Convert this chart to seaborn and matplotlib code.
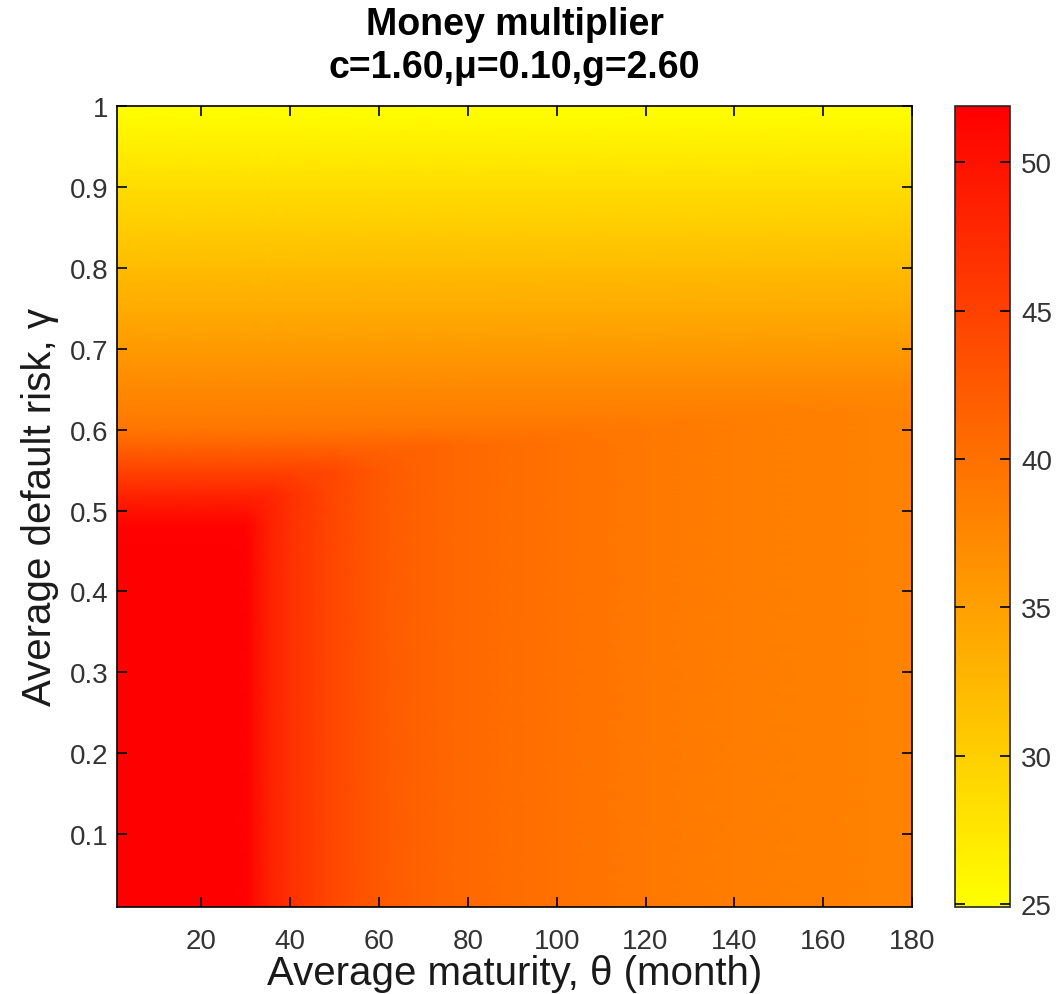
import numpy as np
import matplotlib
matplotlib.use("Agg")
import matplotlib.pyplot as plt
import seaborn as sns

sns.set_style("white")
plt.rcParams['font.family'] = ['Liberation Sans', 'DejaVu Sans']

# Grid coordinates (average maturity theta in months, default risk gamma)
theta = [1, 10, 20, 30, 35, 40, 50, 60, 70, 80, 100, 120, 140, 160, 180]
gamma = [0.01, 0.1, 0.2, 0.3, 0.4, 0.45, 0.48, 0.5, 0.52, 0.55, 0.58, 0.6,
         0.62, 0.65, 0.7, 0.8, 0.9, 1.0]

# Money multiplier values (rows: gamma, cols: theta)
low = [51.9, 51.9, 51.9, 51.7, 48.5, 46.8, 44.3, 42.6, 41.4, 40.8, 39.9, 39.2, 38.7, 38.3, 37.9]
multiplier = [
    low,
    low,
    low,
    low,
    low,
    low,
    [51.6, 51.6, 51.6, 51.6, 48.5, 46.8, 44.3, 42.6, 41.4, 40.8, 39.9, 39.2, 38.7, 38.3, 37.9],
    [50.0, 50.0, 50.0, 50.0, 48.5, 46.8, 44.3, 42.6, 41.4, 40.8, 39.9, 39.2, 38.7, 38.3, 37.9],
    [48.0, 48.0, 48.0, 48.0, 48.0, 46.8, 44.3, 42.6, 41.4, 40.8, 39.9, 39.2, 38.7, 38.3, 37.9],
    [44.8, 44.8, 44.8, 44.8, 44.8, 44.8, 44.3, 42.6, 41.4, 40.8, 39.9, 39.2, 38.7, 38.3, 37.9],
    [41.4, 41.4, 41.4, 41.4, 41.4, 41.4, 41.4, 41.4, 41.4, 40.8, 39.9, 39.2, 38.7, 38.3, 37.9],
    [39.5, 39.5, 39.5, 39.5, 39.5, 39.5, 39.5, 39.5, 39.5, 39.5, 39.5, 39.2, 38.7, 38.3, 37.9],
    [38.6, 38.6, 38.6, 38.6, 38.6, 38.6, 38.6, 38.6, 38.6, 38.6, 38.6, 38.6, 38.6, 38.3, 37.9],
    [37.5] * 15,
    [35.6] * 15,
    [32.0] * 15,
    [28.5] * 15,
    [24.9] * 15,
]

xticks = [20, 40, 60, 80, 100, 120, 140, 160, 180]
yticks = [0.1, 0.2, 0.3, 0.4, 0.5, 0.6, 0.7, 0.8, 0.9, 1.0]
ytick_labels = ["0.1", "0.2", "0.3", "0.4", "0.5", "0.6", "0.7", "0.8", "0.9", "1"]
cticks = [25, 30, 35, 40, 45, 50]

W, H = 1057, 995
fig = plt.figure(figsize=(W / 100, H / 100), dpi=100)
ax = fig.add_axes([117 / W, 1 - 908 / H, (912 - 117) / W, (908 - 107) / H])
cax = fig.add_axes([955 / W, 1 - 908 / H, (1010 - 955) / W, (908 - 107) / H])

cmap = sns.color_palette("autumn_r", as_cmap=True)
mesh = ax.pcolormesh(np.array(theta), np.array(gamma), np.array(multiplier),
                     shading='gouraud', cmap=cmap, vmin=24.9, vmax=51.9)
ax.set_xlim(1, 180)
ax.set_ylim(0.01, 1.0)
ax.set_axisbelow(False)

txt = '#1a1a1a'
ax.set_xticks(xticks)
ax.set_xticklabels([str(t) for t in xticks])
ax.set_yticks(yticks)
ax.set_yticklabels(ytick_labels)
ax.tick_params(direction='in', length=7, width=1.2, top=True, right=True,
               bottom=True, left=True, labelsize=20, colors='black',
               labelcolor='#333333')
ax.tick_params(axis='x', pad=15)
ax.tick_params(axis='y', pad=6)
for s in ax.spines.values():
    s.set_linewidth(1.2)
    s.set_color('black')
    s.set_zorder(5)

ax.set_xlabel("Average maturity, θ (month)", fontsize=29, color=txt, labelpad=0)
ax.set_ylabel("Average default risk, γ", fontsize=29, color=txt, labelpad=8)
ax.set_title("Money multiplier\nc=1.60,μ=0.10,g=2.60", fontsize=27,
             fontweight='bold', color='black', pad=21, linespacing=1.25)

cb = fig.colorbar(mesh, cax=cax)
cb.set_ticks(cticks)
cax.set_axisbelow(False)
cax.tick_params(direction='in', length=7, width=1.2, left=True, right=True,
                colors='black', labelsize=20, labelcolor='#333333', pad=8)
cb.outline.set_linewidth(1.2)

fig.savefig("out.png", dpi=100)
